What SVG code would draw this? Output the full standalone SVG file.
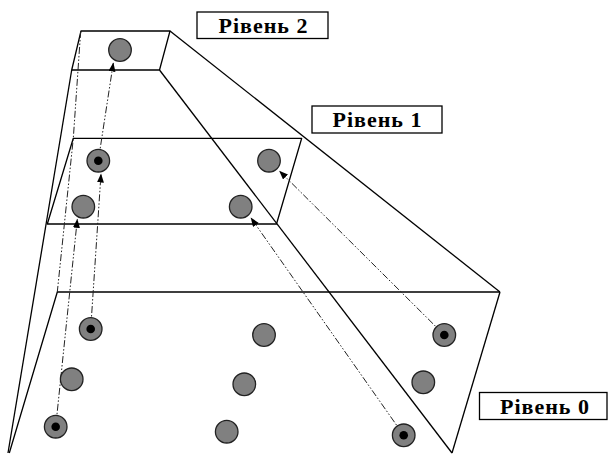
<svg xmlns="http://www.w3.org/2000/svg" width="608" height="455" viewBox="0 0 608 455">
<style>
.edge{fill:none;stroke:#000;stroke-width:1.3;stroke-linejoin:round}
.hid{fill:none;stroke:#222;stroke-width:1;stroke-dasharray:7 2 1.5 2 1.5 2}
.node{fill:#808080;stroke:#222;stroke-width:1.3}
.dot{fill:#000}
.lbl{fill:#fff;stroke:#000;stroke-width:1.3}
.arr{fill:none;stroke:#222;stroke-width:1;stroke-dasharray:7 2 1.5 2 1.5 2}
</style>
<defs>
<marker id="ah" markerUnits="userSpaceOnUse" markerWidth="10" markerHeight="8" refX="8.5" refY="3.5" orient="auto">
<path d="M0,0 L9,3.5 L0,7 z" fill="#000"/>
</marker>
</defs>
<g id="frame">
<polygon class="edge" points="81,31 170,31 159.5,70 71.7,70"/>
<polygon class="edge" points="73.3,138.3 301.7,138.3 276.5,224 47.3,224"/>
<polyline class="edge" points="500,292 57.3,292 9.3,453"/>
<line class="edge" x1="500" y1="292" x2="452" y2="453"/>
<line class="edge" x1="71.7" y1="70" x2="8" y2="453"/>
<line class="edge" x1="170" y1="31" x2="500" y2="292"/>
<line class="edge" x1="159.5" y1="70" x2="452" y2="453"/>
<polyline class="hid" points="80.7,31 73.3,138.3 57.3,292"/>
</g>
<g id="connectors">
<line class="arr" x1="55.7" y1="426.7" x2="77.3" y2="219.3" marker-end="url(#ah)"/>
<line class="arr" x1="90.7" y1="329" x2="101" y2="174" marker-end="url(#ah)"/>
<line class="arr" x1="98.3" y1="160.7" x2="113.3" y2="63" marker-end="url(#ah)"/>
<line class="arr" x1="403.7" y1="435.3" x2="251" y2="218" marker-end="url(#ah)"/>
<line class="arr" x1="444.3" y1="335" x2="279.5" y2="171" marker-end="url(#ah)"/>
</g>
<g id="n2a"><circle class="node" cx="120" cy="50" r="11.3"/></g>
<g id="n1a"><circle class="node" cx="98.3" cy="160.7" r="11.3"/><circle class="dot" cx="98.3" cy="160.7" r="4.3"/></g>
<g id="n1b"><circle class="node" cx="83.3" cy="206.7" r="11.3"/></g>
<g id="n1c"><circle class="node" cx="269" cy="160.7" r="11.3"/></g>
<g id="n1d"><circle class="node" cx="240.7" cy="206.7" r="11.3"/></g>
<g id="n0a"><circle class="node" cx="90.7" cy="329" r="11.3"/><circle class="dot" cx="90.7" cy="329" r="4.3"/></g>
<g id="n0b"><circle class="node" cx="71.7" cy="379.3" r="11.3"/></g>
<g id="n0c"><circle class="node" cx="55.7" cy="426.7" r="11.3"/><circle class="dot" cx="55.7" cy="426.7" r="4.3"/></g>
<g id="n0d"><circle class="node" cx="264" cy="335" r="11.3"/></g>
<g id="n0e"><circle class="node" cx="244.3" cy="384.3" r="11.3"/></g>
<g id="n0f"><circle class="node" cx="226.7" cy="431.7" r="11.3"/></g>
<g id="n0g"><circle class="node" cx="444.3" cy="335" r="11.3"/><circle class="dot" cx="444.3" cy="335" r="4.3"/></g>
<g id="n0h"><circle class="node" cx="423.3" cy="382.3" r="11.3"/></g>
<g id="n0i"><circle class="node" cx="403.7" cy="435.3" r="11.3"/><circle class="dot" cx="403.7" cy="435.3" r="4.3"/></g>
<g font-family="'Liberation Serif', 'DejaVu Serif', serif" font-weight="bold" font-size="22" letter-spacing="1" text-anchor="middle" fill="#000">
<g id="label2"><rect class="lbl" x="197" y="12" width="131" height="26.5"/><text x="263.5" y="32.5">Рівень 2</text></g>
<g id="label1"><rect class="lbl" x="312" y="106" width="130" height="27"/><text x="377.5" y="127">Рівень 1</text></g>
<g id="label0"><rect class="lbl" x="479.5" y="392.5" width="127.5" height="27"/><text x="545" y="413.5">Рівень 0</text></g>
</g>
</svg>
